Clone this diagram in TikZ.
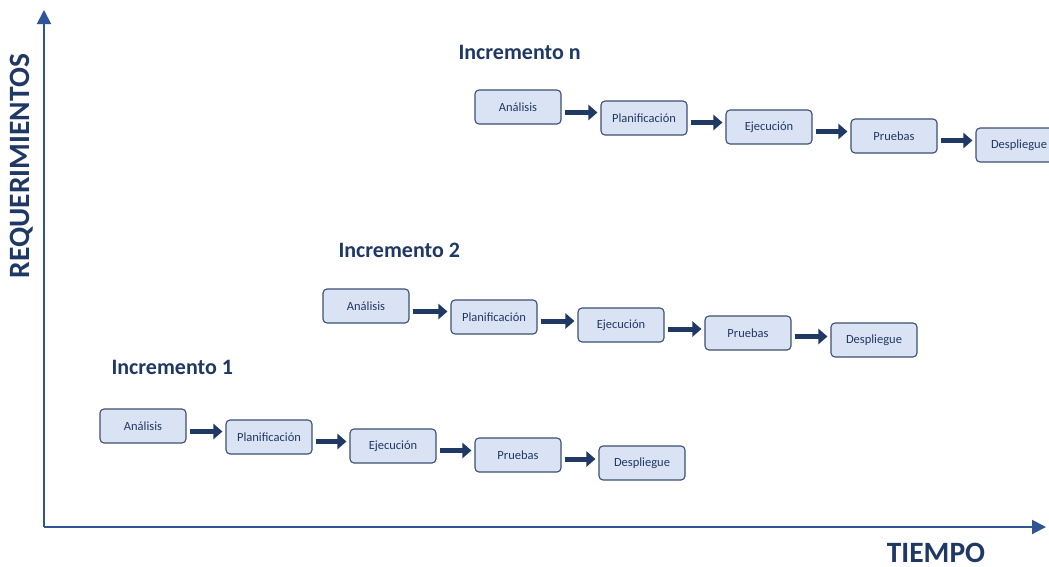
\documentclass[tikz,border=0pt]{standalone}
\usepackage{fontspec}
\setmainfont{Carlito}
\usetikzlibrary{arrows.meta,calc}
\definecolor{axisblue}{HTML}{2F5597}
\definecolor{navy}{HTML}{1F3864}
\definecolor{boxfill}{HTML}{DAE3F3}
\definecolor{boxline}{HTML}{3B4F73}
\tikzset{
  stage/.style={draw=boxline, line width=1.1pt, fill=boxfill, rounded corners=4pt,
    minimum width=86pt, minimum height=34pt, inner sep=0pt,
    font=\fontsize{12.5}{14}\selectfont, text=navy},
  flow/.style={draw=navy, line width=5pt, -{Triangle[length=9pt,width=15pt]}},
  axis/.style={draw=axisblue, line width=2pt, -{Triangle[length=14pt,width=14pt]}},
  title/.style={font=\fontsize{22}{26}\bfseries\selectfont, text=navy, anchor=west},
  axislabel/.style={font=\fontsize{29.5}{32}\bfseries\selectfont, text=navy, inner sep=0pt},
}
\newcommand{\stagechain}[6]{%
  \node[stage] (#1a) at #2 {Análisis};
  \node[stage] (#1b) at #3 {Planificación};
  \node[stage] (#1c) at #4 {Ejecución};
  \node[stage] (#1d) at #5 {Pruebas};
  \node[stage] (#1e) at #6 {Despliegue};
  \foreach \p/\q in {a/b,b/c,c/d,d/e}{
    \path (#1\p.east) -- (#1\q.west) coordinate[pos=0.5] (#1m\p);
    \draw[flow] ([xshift=3pt]#1\p.east |- #1m\p) -- ([xshift=-3pt]#1\q.west |- #1m\p);
  }
}
\begin{document}
\begin{tikzpicture}[x=1pt,y=-1pt]
\useasboundingbox (0,0) rectangle (1049,566);
\fill[white] (0,0) rectangle (1049,566);

% axes
\coordinate (origin) at (44,527);
\coordinate (ytop) at (44,10);
\coordinate (xend) at (1046,527);
\draw[axis] (origin) -- (ytop);
\draw[axis] (origin) -- (xend);
\node[axislabel, rotate=90] (req) at (22,166) {REQUERIMIENTOS};
\node[axislabel, anchor=base] (tiempo) at (936,562) {TIEMPO};

% increment titles
\node[title] (t1) at (108,367) {Incremento 1};
\node[title] (t2) at (335,250) {Incremento 2};
\node[title] (tn) at (455,52) {Incremento n};

% stages of each increment
\stagechain{i}{(143,426)}{(269,437)}{(393,446)}{(518,455)}{(642,463)}
\stagechain{j}{(366,306)}{(494,317)}{(621,325)}{(748,333)}{(874,340)}
\stagechain{k}{(518,107)}{(644,118)}{(769,127)}{(894,136)}{(1019,145)}
\end{tikzpicture}
\end{document}
